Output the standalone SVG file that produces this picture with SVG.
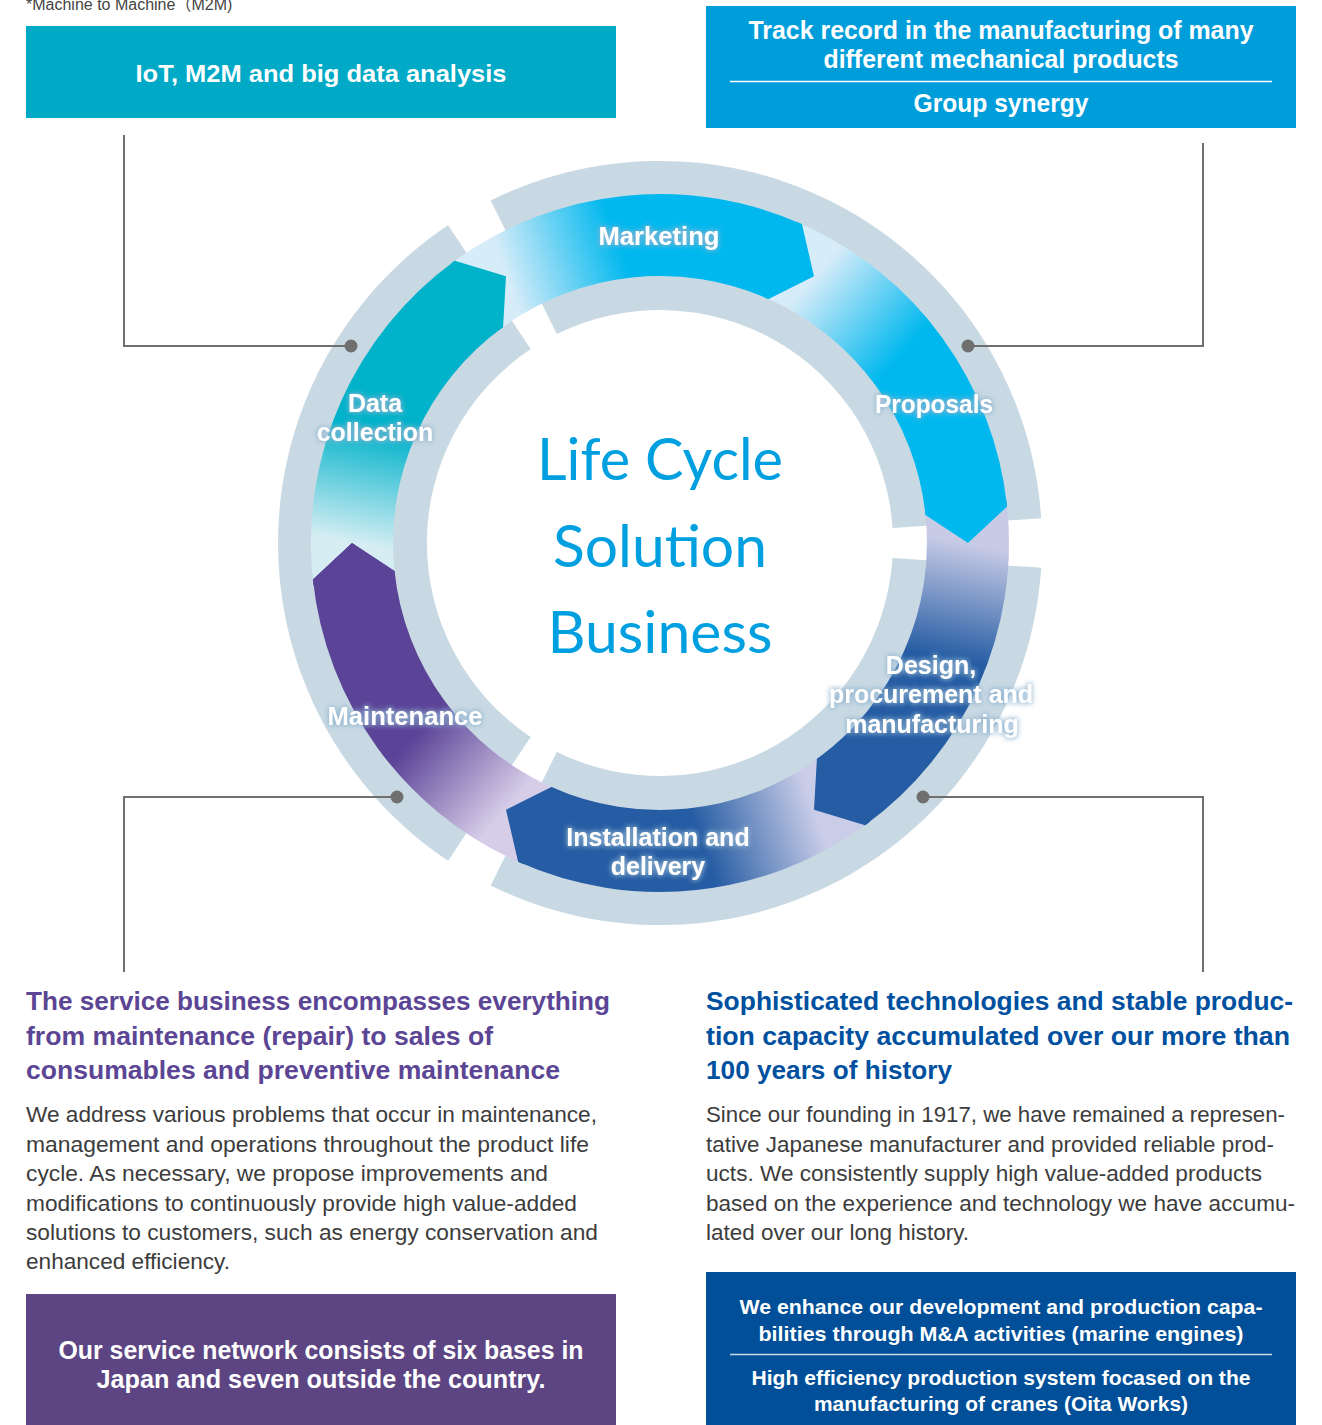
<svg xmlns="http://www.w3.org/2000/svg" width="1322" height="1425" viewBox="0 0 1322 1425">
<defs>
<style>
.grey{fill:#C9D9E3}
.boxt{font-family:"Liberation Sans",Arial,sans-serif;font-weight:bold;fill:#fff;text-anchor:middle}
.lab{font-family:"Liberation Sans",Arial,sans-serif;font-weight:bold;fill:#fff;text-anchor:middle;font-size:25px}
.title{font-family:Lato,"Noto Sans",sans-serif;fill:#00A0E0;text-anchor:middle;font-size:58px}
.hl{font-family:"Liberation Sans",Arial,sans-serif;font-weight:bold;font-size:26px}
.body{font-family:"Liberation Sans",Arial,sans-serif;font-size:21.5px;fill:#3c3c3c}
.conn{fill:none;stroke:#6F6F6F;stroke-width:2}
.dot{fill:#6F6F6F}
</style>
<filter id="glow" filterUnits="userSpaceOnUse" x="0" y="0" width="1322" height="1425">
<feMorphology in="SourceAlpha" operator="dilate" radius="1" result="d"/>
<feGaussianBlur in="d" stdDeviation="2.5" result="b"/>
<feFlood flood-color="#8EB3D0" flood-opacity="0.85"/>
<feComposite in2="b" operator="in" result="g"/>
<feMerge><feMergeNode in="g"/><feMergeNode in="SourceGraphic"/></feMerge>
</filter>
<linearGradient id="gDC" gradientUnits="userSpaceOnUse" x1="352" y1="543" x2="374.4" y2="427.6"><stop offset="0" stop-color="#D6EEF3"/><stop offset="1" stop-color="#00B2CA"/></linearGradient>
<linearGradient id="gMk" gradientUnits="userSpaceOnUse" x1="506" y1="276.3" x2="617.1" y2="238"><stop offset="0" stop-color="#D7ECF9"/><stop offset="1" stop-color="#00B8EE"/></linearGradient>
<linearGradient id="gPr" gradientUnits="userSpaceOnUse" x1="814" y1="276.3" x2="902.7" y2="353.4"><stop offset="0" stop-color="#D7ECF9"/><stop offset="1" stop-color="#00B8EE"/></linearGradient>
<linearGradient id="gDe" gradientUnits="userSpaceOnUse" x1="968" y1="543" x2="945.6" y2="658.4"><stop offset="0" stop-color="#C8CBE6"/><stop offset="1" stop-color="#255CA3"/></linearGradient>
<linearGradient id="gIn" gradientUnits="userSpaceOnUse" x1="814" y1="809.7" x2="702.9" y2="848"><stop offset="0" stop-color="#CACDE8"/><stop offset="1" stop-color="#255CA3"/></linearGradient>
<linearGradient id="gMa" gradientUnits="userSpaceOnUse" x1="506" y1="809.7" x2="417.3" y2="732.6"><stop offset="0" stop-color="#D6CDE8"/><stop offset="1" stop-color="#5B4397"/></linearGradient>
</defs>
<rect width="1322" height="1425" fill="#fff"/>

<text x="26" y="10" font-family="Liberation Sans, Noto Sans CJK JP, sans-serif" font-size="16" fill="#444">*Machine to Machine（M2M)</text>

<g id="ring-grey">
<path class="grey" d="M 490.7 200.5 A 382 382 0 0 1 1041.2 518.3 L 892.5 528.0 A 233 233 0 0 0 556.8 334.1 Z"/>
<path class="grey" d="M 1041.2 567.7 A 382 382 0 0 1 490.7 885.5 L 556.8 751.9 A 233 233 0 0 0 892.5 558.0 Z"/>
<path class="grey" d="M 448.1 860.8 A 382 382 0 0 1 448.1 225.2 L 530.7 349.1 A 233 233 0 0 0 530.7 736.9 Z"/>
</g>

<g id="ring-bands">
<path fill="url(#gDC)" d="M 312.9 579.5 A 349 349 0 0 1 454.9 260.7 L 506.0 276.3 L 503.1 327.0 A 267 267 0 0 0 394.5 570.9 Z"/>
<path fill="url(#gMk)" d="M 454.9 260.7 A 349 349 0 0 1 802.0 224.2 L 814.0 276.3 L 768.6 299.1 A 267 267 0 0 0 503.1 327.0 Z"/>
<path fill="url(#gPr)" d="M 802.0 224.2 A 349 349 0 0 1 1007.1 506.5 L 968 543 L 925.5 515.1 A 267 267 0 0 0 768.6 299.1 Z"/>
<path fill="url(#gDe)" d="M 1007.1 506.5 A 349 349 0 0 1 865.1 825.3 L 814.0 809.7 L 816.9 759.0 A 267 267 0 0 0 925.5 515.1 Z"/>
<path fill="url(#gIn)" d="M 865.1 825.3 A 349 349 0 0 1 518.1 861.8 L 506.0 809.7 L 551.4 786.9 A 267 267 0 0 0 816.9 759.0 Z"/>
<path fill="url(#gMa)" d="M 518.1 861.8 A 349 349 0 0 1 312.9 579.5 L 352 543 L 394.5 570.9 A 267 267 0 0 0 551.4 786.9 Z"/>
</g>

<g id="data-collection">
<path fill="#00B2CA" d="M 450.0 264.3 A 349 349 0 0 1 454.9 260.7 L 506.0 276.3 L 503.1 327.0 A 267 267 0 0 0 499.3 329.8 Z"/>
<g filter="url(#glow)"><text class="lab" x="375" y="412">Data</text><text class="lab" x="375" y="441">collection</text></g>
</g>
<g id="marketing">
<path fill="#00B8EE" d="M 796.4 221.7 A 349 349 0 0 1 802.0 224.2 L 814.0 276.3 L 768.6 299.1 A 267 267 0 0 0 764.3 297.2 Z"/>
<g filter="url(#glow)"><text class="lab" x="659" y="245" textLength="121" lengthAdjust="spacingAndGlyphs">Marketing</text></g>
</g>
<g id="proposals">
<path fill="#00B8EE" d="M 1006.4 500.5 A 349 349 0 0 1 1007.1 506.5 L 968 543 L 925.5 515.1 A 267 267 0 0 0 925.0 510.5 Z"/>
<g filter="url(#glow)"><text class="lab" x="934" y="413" textLength="118" lengthAdjust="spacingAndGlyphs">Proposals</text></g>
</g>
<g id="design">
<path fill="#255CA3" d="M 870.0 821.7 A 349 349 0 0 1 865.1 825.3 L 814.0 809.7 L 816.9 759.0 A 267 267 0 0 0 820.7 756.2 Z"/>
<g filter="url(#glow)"><text class="lab" x="931" y="674">Design,</text><text class="lab" x="931" y="703">procurement and</text><text class="lab" x="932" y="733">manufacturing</text></g>
</g>
<g id="installation">
<path fill="#255CA3" d="M 523.6 864.3 A 349 349 0 0 1 518.1 861.8 L 506.0 809.7 L 551.4 786.9 A 267 267 0 0 0 555.7 788.8 Z"/>
<g filter="url(#glow)"><text class="lab" x="658" y="846">Installation and</text><text class="lab" x="658" y="875">delivery</text></g>
</g>
<g id="maintenance">
<path fill="#5B4397" d="M 313.6 585.5 A 349 349 0 0 1 312.9 579.5 L 352 543 L 394.5 570.9 A 267 267 0 0 0 395.0 575.5 Z"/>
<g filter="url(#glow)"><text class="lab" x="405" y="725" textLength="155" lengthAdjust="spacingAndGlyphs">Maintenance</text></g>
</g>

<g id="center-title">
<text class="title" x="660" y="480" textLength="246" lengthAdjust="spacingAndGlyphs">Life Cycle</text>
<text class="title" x="660" y="567" textLength="214" lengthAdjust="spacingAndGlyphs">Solution</text>
<text class="title" x="660" y="653" textLength="225" lengthAdjust="spacingAndGlyphs">Business</text>
</g>

<g id="connectors">
<path class="conn" d="M 124 135 V 346 H 351"/>
<circle class="dot" cx="351" cy="346" r="6.5"/>
<path class="conn" d="M 1203 143 V 346 H 968"/>
<circle class="dot" cx="968" cy="346" r="6.5"/>
<path class="conn" d="M 397 797 H 124 V 972"/>
<circle class="dot" cx="397" cy="797" r="6.5"/>
<path class="conn" d="M 923 797 H 1203 V 972"/>
<circle class="dot" cx="923" cy="797" r="6.5"/>
</g>

<g id="box-iot">
<rect x="26" y="26" width="590" height="92" fill="#00A9C5"/>
<text class="boxt" x="321" y="82" font-size="24" textLength="371" lengthAdjust="spacingAndGlyphs">IoT, M2M and big data analysis</text>
</g>

<g id="box-track">
<rect x="706" y="6" width="590" height="122" fill="#009DDB"/>
<text class="boxt" x="1001" y="39" font-size="25" textLength="505" lengthAdjust="spacingAndGlyphs">Track record in the manufacturing of many</text>
<text class="boxt" x="1001" y="68" font-size="25" textLength="355" lengthAdjust="spacingAndGlyphs">different mechanical products</text>
<line x1="730" y1="81.5" x2="1272" y2="81.5" stroke="#fff" stroke-width="1.5"/>
<text class="boxt" x="1001" y="112" font-size="25" textLength="175" lengthAdjust="spacingAndGlyphs">Group synergy</text>
</g>

<g id="service-text">
<text class="hl" fill="#5B4594" x="26" y="1010" textLength="584" lengthAdjust="spacingAndGlyphs">The service business encompasses everything</text>
<text class="hl" fill="#5B4594" x="26" y="1045" textLength="467" lengthAdjust="spacingAndGlyphs">from maintenance (repair) to sales of</text>
<text class="hl" fill="#5B4594" x="26" y="1079" textLength="534" lengthAdjust="spacingAndGlyphs">consumables and preventive maintenance</text>
<text class="body" x="26" y="1122" textLength="571" lengthAdjust="spacingAndGlyphs">We address various problems that occur in maintenance,</text>
<text class="body" x="26" y="1152" textLength="563" lengthAdjust="spacingAndGlyphs">management and operations throughout the product life</text>
<text class="body" x="26" y="1181" textLength="522" lengthAdjust="spacingAndGlyphs">cycle. As necessary, we propose improvements and</text>
<text class="body" x="26" y="1211" textLength="551" lengthAdjust="spacingAndGlyphs">modifications to continuously provide high value-added</text>
<text class="body" x="26" y="1240" textLength="572" lengthAdjust="spacingAndGlyphs">solutions to customers, such as energy conservation and</text>
<text class="body" x="26" y="1269" textLength="204" lengthAdjust="spacingAndGlyphs">enhanced efficiency.</text>
</g>

<g id="tech-text">
<text class="hl" fill="#0050A0" x="706" y="1010" textLength="587" lengthAdjust="spacingAndGlyphs">Sophisticated technologies and stable produc-</text>
<text class="hl" fill="#0050A0" x="706" y="1045" textLength="584" lengthAdjust="spacingAndGlyphs">tion capacity accumulated over our more than</text>
<text class="hl" fill="#0050A0" x="706" y="1079" textLength="246" lengthAdjust="spacingAndGlyphs">100 years of history</text>
<text class="body" x="706" y="1122" textLength="579" lengthAdjust="spacingAndGlyphs">Since our founding in 1917, we have remained a represen-</text>
<text class="body" x="706" y="1152" textLength="568" lengthAdjust="spacingAndGlyphs">tative Japanese manufacturer and provided reliable prod-</text>
<text class="body" x="706" y="1181" textLength="556" lengthAdjust="spacingAndGlyphs">ucts. We consistently supply high value-added products</text>
<text class="body" x="706" y="1211" textLength="589" lengthAdjust="spacingAndGlyphs">based on the experience and technology we have accumu-</text>
<text class="body" x="706" y="1240" textLength="263" lengthAdjust="spacingAndGlyphs">lated over our long history.</text>
</g>

<g id="box-network">
<rect x="26" y="1294" width="590" height="131" fill="#5C4582"/>
<text class="boxt" x="321" y="1359" font-size="25" textLength="525" lengthAdjust="spacingAndGlyphs">Our service network consists of six bases in</text>
<text class="boxt" x="321" y="1388" font-size="25" textLength="449" lengthAdjust="spacingAndGlyphs">Japan and seven outside the country.</text>
</g>

<g id="box-enhance">
<rect x="706" y="1272" width="590" height="153" fill="#004F98"/>
<text class="boxt" x="1001" y="1314" font-size="21" textLength="523" lengthAdjust="spacingAndGlyphs">We enhance our development and production capa-</text>
<text class="boxt" x="1001" y="1341" font-size="21" textLength="485" lengthAdjust="spacingAndGlyphs">bilities through M&amp;A activities (marine engines)</text>
<line x1="730" y1="1354.5" x2="1272" y2="1354.5" stroke="#C9D9E3" stroke-width="1.5"/>
<text class="boxt" x="1001" y="1385" font-size="21" textLength="499" lengthAdjust="spacingAndGlyphs">High efficiency production system focased on the</text>
<text class="boxt" x="1001" y="1411" font-size="21" textLength="374" lengthAdjust="spacingAndGlyphs">manufacturing of cranes (Oita Works)</text>
</g>
</svg>
